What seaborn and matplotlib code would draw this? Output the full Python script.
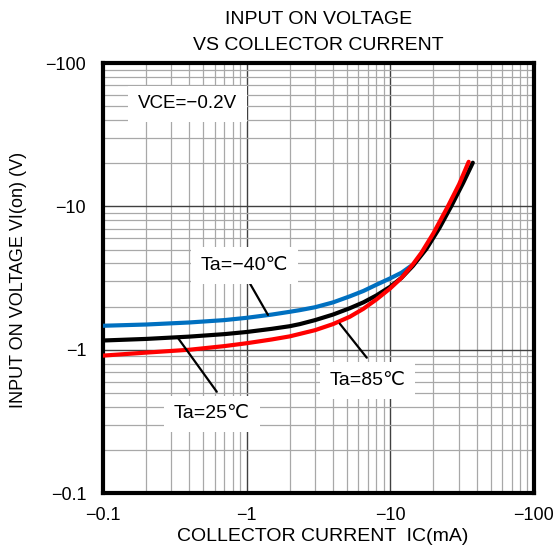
import matplotlib
matplotlib.use('Agg')
import matplotlib.pyplot as plt
import pandas as pd
import seaborn as sns
from matplotlib.ticker import FuncFormatter, LogLocator, NullFormatter

# collector current IC (mA, magnitude) vs input on voltage VI(on) (V, magnitude)
ic_m40 = [0.1, 0.2, 0.4, 0.7, 1.0, 1.5, 2.0, 2.35, 3.0, 4.0, 5.24, 6.5, 8.0, 10, 12, 14.0]
vi_m40 = [1.47, 1.50, 1.55, 1.61, 1.67, 1.76, 1.84, 1.89, 1.98, 2.14, 2.36, 2.57, 2.84, 3.15, 3.45, 3.85]

ic_25 = [0.1, 0.2, 0.4, 0.7, 1.0, 1.5, 2.0, 2.35, 3.0, 4.0, 5.24, 6.5, 8.0, 10, 12, 14.4,
         17.9, 22, 26.5, 32.2, 37.6]
vi_25 = [1.16, 1.19, 1.235, 1.285, 1.33, 1.40, 1.46, 1.51, 1.61, 1.76, 1.95, 2.14, 2.39, 2.75, 3.18, 3.85,
         5.07, 7.07, 9.97, 14.6, 20.2]

ic_85 = [0.1, 0.2, 0.4, 0.7, 1.0, 1.5, 2.0, 2.35, 3.0, 4.0, 5.24, 6.5, 8.0, 10, 12, 14.4,
         16.5, 20, 25.2, 30.2, 35.2]
vi_85 = [0.91, 0.955, 1.0, 1.06, 1.11, 1.18, 1.24, 1.29, 1.37, 1.51, 1.70, 1.93, 2.24, 2.68, 3.18, 3.95,
         4.75, 6.5, 10.0, 14.3, 20.5]

x_ticks = [0.1, 1, 10, 100]
y_ticks = [0.1, 1, 10, 100]

df = pd.concat([
    pd.DataFrame({'ic': ic_m40, 'vi': vi_m40, 'ta': '-40'}),
    pd.DataFrame({'ic': ic_25, 'vi': vi_25, 'ta': '25'}),
    pd.DataFrame({'ic': ic_85, 'vi': vi_85, 'ta': '85'}),
])

sns.set_style('white', {'text.color': 'black', 'axes.labelcolor': 'black',
                        'xtick.color': 'black', 'ytick.color': 'black'})
plt.rcParams['font.family'] = ['Liberation Sans', 'DejaVu Sans']

fig = plt.figure(figsize=(5.59, 5.59), dpi=100)
ax = fig.add_axes([0.184, 0.118, 0.771, 0.769])

sns.lineplot(data=df, x='ic', y='vi', hue='ta', hue_order=['-40', '25', '85'],
             palette=['#0070c0', 'black', '#ff0000'], linewidth=3, legend=False,
             sort=False, estimator=None, ax=ax, zorder=3)

ax.set_xscale('log')
ax.set_yscale('log')
ax.set_xlim(0.1, 100)
ax.set_ylim(0.1, 100)

ax.xaxis.set_minor_locator(LogLocator(base=10, subs=range(2, 10)))
ax.yaxis.set_minor_locator(LogLocator(base=10, subs=range(2, 10)))
ax.xaxis.set_minor_formatter(NullFormatter())
ax.yaxis.set_minor_formatter(NullFormatter())
ax.set_xticks(x_ticks)
ax.set_yticks(y_ticks)
fmt = FuncFormatter(lambda v, pos: '\u2212' + f'{v:g}')
ax.xaxis.set_major_formatter(fmt)
ax.yaxis.set_major_formatter(fmt)
ax.tick_params(which='both', length=0, labelsize=13, labelcolor='black')
ax.tick_params(axis='x', pad=10)
ax.tick_params(axis='y', pad=12)

ax.grid(True, which='major', color='#404040', linewidth=1.0)
ax.grid(True, which='minor', color='#a8a8a8', linewidth=0.9)
ax.set_axisbelow(True)
for s in ax.spines.values():
    s.set_visible(True)
    s.set_color('black')
    s.set_linewidth(3)

ax.set_xlabel('COLLECTOR CURRENT  IC(mA)', fontsize=14, color='black')
ax.set_ylabel('INPUT ON VOLTAGE VI(on) (V)', fontsize=13, color='black')
ax.xaxis.set_label_coords(0.51, -0.081)
ax.yaxis.set_label_coords(-0.176, 0.495)
fig.text(0.57, 0.966, 'INPUT ON VOLTAGE', fontsize=14, ha='center', va='center', color='black')
fig.text(0.57, 0.918, 'VS COLLECTOR CURRENT', fontsize=14, ha='center', va='center', color='black')

box = dict(facecolor='white', edgecolor='none', pad=7)
lead = dict(arrowstyle='-', color='black', lw=1.6, shrinkA=0, shrinkB=0)

ax.text(0.175, 52, 'VCE=\u22120.2V', fontsize=13.5, ha='left', va='center', bbox=box, zorder=5)

# leader lines first, labels with white boxes on top
ax.annotate('', xy=(1.41, 1.75), xytext=(1.05, 2.93), arrowprops=lead, zorder=4)
ax.annotate('', xy=(0.333, 1.21), xytext=(0.621, 0.509), arrowprops=lead, zorder=4)
ax.annotate('', xy=(4.46, 1.52), xytext=(6.87, 0.88), arrowprops=lead, zorder=4)

ax.text(0.97, 3.86, 'Ta=\u221240\u2103', fontsize=14, ha='center', va='center', bbox=box, zorder=5)
ax.text(0.574, 0.357, 'Ta=25\u2103', fontsize=14, ha='center', va='center', bbox=box, zorder=5)
ax.text(6.98, 0.608, 'Ta=85\u2103', fontsize=14, ha='center', va='center', bbox=box, zorder=5)

fig.savefig('out.png', dpi=100)
